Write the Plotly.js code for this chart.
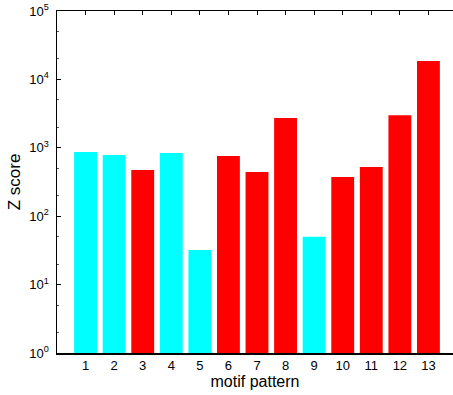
<!DOCTYPE html>
<html>
<head>
<meta charset="utf-8">
<script src="https://cdn.plot.ly/plotly-3.0.1.min.js"></script>
<style>html,body{margin:0;padding:0;background:#fff;}#chart{width:453px;height:395px;}</style>
</head>
<body>
<div id="chart"></div>
<script>
var motifs = [1, 2, 3, 4, 5, 6, 7, 8, 9, 10, 11, 12, 13];
var zScores = [870, 785, 474, 840, 32, 760, 443, 2730, 50, 374, 524, 3000, 18600];
var motifGroup = ['A', 'A', 'B', 'A', 'A', 'B', 'B', 'B', 'A', 'B', 'B', 'B', 'B'];
var yTickVals = [1, 10, 100, 1000, 10000, 100000];
var yTickText = ['10<sup>0</sup>', '10<sup>1</sup>', '10<sup>2</sup>', '10<sup>3</sup>', '10<sup>4</sup>', '10<sup>5</sup>'];

var groupColor = {A: '#00FFFF', B: '#FF0000'};
var barColors = motifGroup.map(function (g) { return groupColor[g]; });

var font = {family: 'Liberation Sans, Arial, sans-serif', color: '#000'};

var data = [{
  type: 'bar',
  x: motifs,
  y: zScores,
  width: 0.8,
  marker: {color: barColors, line: {width: 0}},
  hoverinfo: 'x+y'
}, {
  type: 'scatter',
  x: motifs,
  y: zScores,
  xaxis: 'x2',
  mode: 'none',
  hoverinfo: 'skip',
  showlegend: false
}];

var layout = {
  width: 453,
  height: 395,
  margin: {l: 57, r: 0, t: 11, b: 42},
  paper_bgcolor: '#fff',
  plot_bgcolor: '#fff',
  showlegend: false,
  bargap: 0.2,
  xaxis: {
    range: [0, 13.86],
    tickvals: motifs,
    ticktext: motifs.map(String),
    ticks: '',
    showgrid: false,
    zeroline: false,
    showline: true,
    linecolor: '#000',
    linewidth: 1.5,
    tickfont: Object.assign({size: 13}, font),
    title: {text: 'motif pattern', font: Object.assign({size: 16}, font), standoff: 1},
    automargin: false
  },
  xaxis2: {
    overlaying: 'x',
    side: 'top',
    range: [0, 13.86],
    tickvals: motifs,
    showticklabels: false,
    ticks: 'inside',
    ticklen: 4,
    tickcolor: '#000',
    showgrid: false,
    zeroline: false,
    showline: true,
    linecolor: '#000',
    linewidth: 1.5
  },
  yaxis: {
    type: 'log',
    range: [0, 5],
    tickvals: yTickVals,
    ticktext: yTickText,
    ticks: 'inside',
    ticklen: 4,
    tickcolor: '#000',
    minor: {ticks: 'inside', ticklen: 2, tickcolor: '#555', showgrid: false},
    showgrid: false,
    zeroline: false,
    showline: true,
    linecolor: '#000',
    linewidth: 1.5,
    tickfont: Object.assign({size: 13}, font),
    ticklabelstandoff: 4,
    title: {text: 'Z score', font: Object.assign({size: 17}, font), standoff: 4},
    automargin: false
  }
};

Plotly.newPlot('chart', data, layout, {displayModeBar: false, staticPlot: true});
</script>
</body>
</html>
